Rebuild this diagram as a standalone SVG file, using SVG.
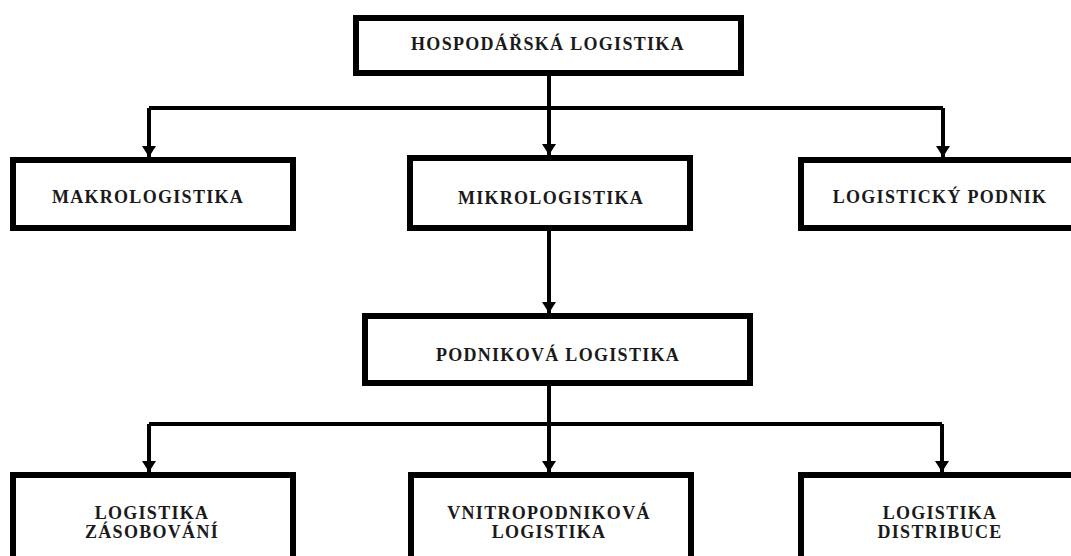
<svg xmlns="http://www.w3.org/2000/svg" width="1071" height="556" viewBox="0 0 1071 556">
  <style>
    .box { fill: #ffffff; stroke: #000000; stroke-width: 6; }
    .lbl { font-family: "Liberation Serif", "Times New Roman", serif; font-weight: bold; font-size: 18px; letter-spacing: 1.3px; fill: #1a1a1a; text-anchor: middle; }
    .wire { fill: none; stroke: #000000; stroke-width: 4; stroke-linejoin: round; }
    .drop { fill: none; stroke: #000000; stroke-width: 4; marker-end: url(#arrow); }
  </style>
  <defs>
    <!-- filled triangular head, tip sits on the box edge -->
    <marker id="arrow" markerUnits="userSpaceOnUse" markerWidth="11" markerHeight="14" refX="11" refY="7" orient="auto" viewBox="0 0 11 14">
      <path d="M0,0 L11,7 L0,14 Z" fill="#000000"/>
    </marker>
  </defs>
  <rect width="1071" height="556" fill="#ffffff"/>

  <!-- connectors -->
  <g id="connectors">
    <path class="wire" d="M549,75 V108"/>
    <path class="wire" d="M149,108 H943"/>
    <path class="drop" d="M149,108 V157"/>
    <path class="drop" d="M549,108 V155"/>
    <path class="drop" d="M943,108 V157"/>
    <path class="drop" d="M549,230 V313"/>
    <path class="wire" d="M549,385 V424"/>
    <path class="wire" d="M149,424 H942"/>
    <path class="drop" d="M149,424 V472"/>
    <path class="drop" d="M549,424 V472"/>
    <path class="drop" d="M942,424 V472"/>
  </g>

  <g id="hospodarska">
    <rect class="box" x="356" y="18" width="385" height="55"/>
    <text class="lbl" x="548" y="50">HOSPODÁŘSKÁ LOGISTIKA</text>
  </g>
  <g id="makrologistika">
    <rect class="box" x="13" y="160" width="280" height="68"/>
    <text class="lbl" x="148" y="203">MAKROLOGISTIKA</text>
  </g>
  <g id="mikrologistika">
    <rect class="box" x="410" y="158" width="280" height="70"/>
    <text class="lbl" x="551" y="204">MIKROLOGISTIKA</text>
  </g>
  <g id="logisticky-podnik">
    <rect class="box" x="801" y="160" width="290" height="68"/>
    <text class="lbl" x="940" y="203">LOGISTICKÝ PODNIK</text>
  </g>
  <g id="podnikova">
    <rect class="box" x="365" y="316" width="385" height="67"/>
    <text class="lbl" x="558" y="361">PODNIKOVÁ LOGISTIKA</text>
  </g>
  <g id="zasobovani">
    <rect class="box" x="13" y="475" width="280" height="100"/>
    <text class="lbl" x="152" y="519">LOGISTIKA</text>
    <text class="lbl" x="152" y="538">ZÁSOBOVÁNÍ</text>
  </g>
  <g id="vnitropodnikova">
    <rect class="box" x="411" y="475" width="280" height="100"/>
    <text class="lbl" x="549" y="519">VNITROPODNIKOVÁ</text>
    <text class="lbl" x="549" y="538">LOGISTIKA</text>
  </g>
  <g id="distribuce">
    <rect class="box" x="801" y="475" width="290" height="100"/>
    <text class="lbl" x="940" y="519">LOGISTIKA</text>
    <text class="lbl" x="940" y="538">DISTRIBUCE</text>
  </g>
</svg>
